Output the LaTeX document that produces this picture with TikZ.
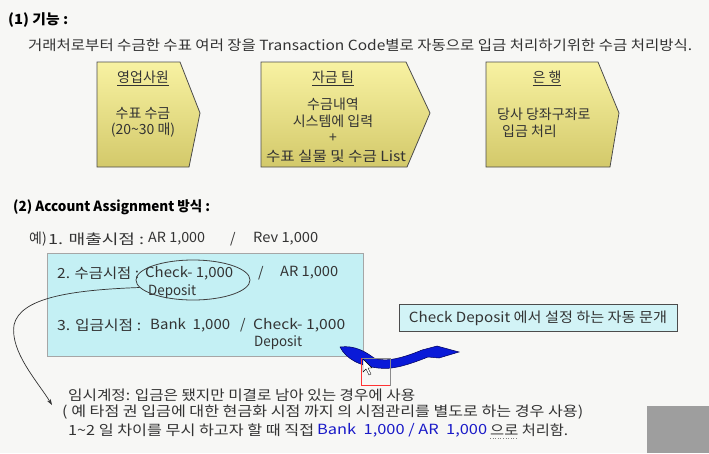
\documentclass[tikz,border=0pt]{standalone}
\usepackage{fontspec}
\usepackage{graphicx}
\setmainfont{Noto Sans CJK KR}
\usetikzlibrary{arrows.meta,shapes.geometric}
\definecolor{bg}{HTML}{F7F7F5}
\definecolor{ytop}{HTML}{F8F2A2}
\definecolor{ybot}{HTML}{D3C96A}
\definecolor{cy}{HTML}{C4F0F4}
\definecolor{cyb}{HTML}{D2F3F6}
\definecolor{tx}{HTML}{333333}
\definecolor{bl}{HTML}{1A1AC8}
\definecolor{arrowblue}{HTML}{0A1AD8}
\newcommand\fw[2]{\resizebox{#1pt}{\height}{#2}}
\begin{document}
\begin{tikzpicture}[x=1pt,y=-1pt,
  t/.style={inner sep=0pt, anchor=west, font=\fontsize{14}{16}\selectfont, text=tx},
  tc/.style={inner sep=0pt, anchor=center, font=\fontsize{14}{16}\selectfont, text=tx},
  chev/.style={draw=black!70, line width=0.8pt, top color=ytop, bottom color=ybot},
  hd/.style={inner sep=0pt, anchor=west, font=\fontsize{14}{16}\selectfont\bfseries, text=black}]
\useasboundingbox (0,0) rectangle (709,453);
\fill[bg] (0,0) rectangle (709,453);
% gray block
\fill[black!38] (647,406) rectangle (709,453);

% section 1
\node[hd] (h1) at (8,20) {\fw{60}{(1) 기능 :}};
\node[t] (l1) at (28,45) {\fw{664}{거래처로부터 수금한 수표 여러 장을 Transaction Code별로 자동으로 입금 처리하기위한 수금 처리방식.}};

% chevrons
\draw[chev] (97,62) -- (180,62) -- (200,113) -- (189,167) -- (97,167) -- cycle;
\draw[chev] (261,62) -- (406,62) -- (430,113) -- (407,167) -- (261,167) -- cycle;
\draw[chev] (486,62) -- (598,62) -- (619,113) -- (610,167) -- (486,167) -- cycle;

\node[tc] (c1a) at (143,78) {\underline{영업사원}};
\node[tc] (c1b) at (143,113) {수표 수금};
\node[tc] (c1c) at (143,130) {(20\textasciitilde30 매)};

\node[tc] (c2a) at (333,78) {\underline{자금 팀}};
\node[tc] (c2b) at (333,104) {수금내역};
\node[tc] (c2c) at (333,121) {시스템에 입력};
\node[tc] (c2d) at (333,138) {+};
\node[tc] (c2e) at (336,156) {\fw{140}{수표 실물 및 수금 List}};

\node[tc] (c3a) at (547,78) {\underline{은 행}};
\node[t] (c3b) at (497,114) {당사 당좌구좌로};
\node[t] (c3c) at (502,131) {입금 처리};

% section 2
\node[hd] (h2) at (13,207) {\fw{197}{(2) Account Assignment 방식 :}};
\node[t] (e0) at (29,239) {예)};
\node[t] (e1) at (48,239) {\fw{96}{1. 매출시점 :}};
\node[t] (e2) at (148,239) {\fw{57}{AR 1,000}};
\node[t] (e3) at (230,239) {/};
\node[t] (e4) at (253,239) {\fw{65}{Rev 1,000}};

\node (cbox) [draw=black!35, line width=0.8pt, fill=cy, minimum width=316, minimum height=103, anchor=north west, inner sep=0pt] at (47,253) {};

\node[t] (r1) at (57,273) {\fw{82}{2. 수금시점 :}};
\node[t] (r2) at (145,273) {\fw{88}{Check- 1,000}};
\node[t] (r3) at (258,273) {/};
\node[t] (r4) at (280,273) {\fw{58}{AR 1,000}};
\node[t] (r5) at (148,292) {\fw{48}{Deposit}};
\node[t] (s1) at (57,325) {\fw{84}{3. 입금시점 :}};
\node[t] (s2) at (150,325) {\fw{80}{Bank~~1,000}};
\node[t] (s3) at (240,325) {/};
\node[t] (s4) at (253,325) {\fw{92}{Check- 1,000}};
\node[t] (s5) at (254,343) {\fw{48}{Deposit}};

\node (ell) [ellipse, draw=black!75, line width=0.8pt, minimum width=114, minimum height=40, inner sep=0pt] at (193,280) {};
\coordinate (tip) at (52,405);
\draw[black!80, line width=0.7pt, -{Stealth[length=6pt,width=4pt]}] (ell.188) .. controls (70,290) and (20,298) .. (14,325) .. controls (10,352) and (38,382) .. (tip);

% check deposit box
\node (cd) [draw=black!70, line width=0.8pt, fill=cyb, minimum width=278, minimum height=27, inner sep=0pt, font=\fontsize{14}{16}\selectfont, text=tx] at (538,318) {\fw{258}{Check Deposit 에서 설정 하는 자동 문개}};

% blue curved arrow
\fill[arrowblue, draw=blue!35!black, line width=0.5pt]
  (340,347) .. controls (355,345) and (366,352) .. (374,358)
  .. controls (386,363) and (405,357) .. (422,350)
  -- (437,346) -- (459,352) -- (439,358) -- (428,357)
  .. controls (408,365) and (392,370) .. (378,368)
  .. controls (360,366) and (346,359) .. cycle;

% selection square and cursor
\draw[black!45, line width=0.7pt] (361,358) rectangle (390,385);
\draw[red!80, line width=0.8pt] (361,358) -- (361,385) -- (390,385);
\draw[fill=white, draw=black, line width=0.4pt] (363,359) -- (363,372) -- (366,369) -- (369,375) -- (371,374) -- (368,368) -- (372,368) -- cycle;

% bottom notes
\node[t] (n1) at (68,395) {\fw{347}{임시계정: 입금은 됐지만 미결로 남아 있는 경우에 사용}};
\node[t] (n2) at (62,412) {\fw{521}{( 예 타점 권 입금에 대한 현금화 시점 까지 의 시점관리를 별도로 하는 경우 사용)}};
\node[t] (n3a) at (68,430) {\fw{246}{1\textasciitilde2 일 차이를 무시 하고자 할 때 직접}};
\node[t, text=bl] (n3b) at (317,430) {\fw{170}{Bank~~1,000 / AR~~1,000}};
\node[t] (n3c) at (490,430) {\fw{78}{으로 처리함.}};
\draw[black!50, line width=0.6pt, dotted] (490,438) -- (517,438);
\end{tikzpicture}
\end{document}
